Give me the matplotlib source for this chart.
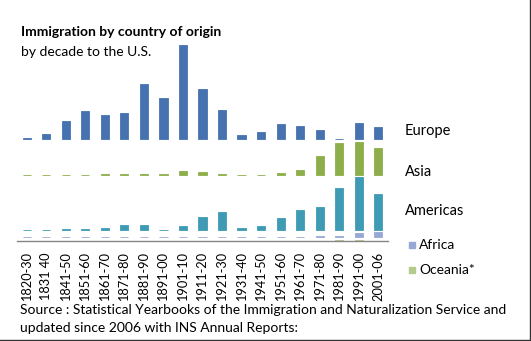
import matplotlib.pyplot as plt
from matplotlib.lines import Line2D
from matplotlib.patches import Rectangle

plt.rcParams['font.family'] = ['Lato', 'DejaVu Sans']

# decades and immigrants by region of origin (thousands)
decades = ['1820-30', '1831 40', '1841-50', '1851-60', '1861-70', '1871-80',
           '1881-90', '1891-00', '1901-10', '1911-20', '1921-30', '1931-40',
           '1941-50', '1951-60', '1961-70', '1971-80', '1981-90', '1991-00',
           '2001-06']
europe = [106, 496, 1597, 2453, 2065, 2272, 4735, 3555, 8056, 4321, 2463,
          348, 621, 1326, 1123, 800, 50, 1360, 1050]
asia = [0, 0, 0, 41, 65, 124, 70, 75, 324, 247, 112, 17, 37, 153, 428,
        1588, 2738, 2795, 2300]
americas = [12, 33, 62, 74, 166, 404, 427, 39, 362, 1144, 1517, 160, 355,
            997, 1716, 1983, 3615, 4486, 3100]
africa = [0, 0, 0, 0, 0, 0, 1, 0, 7, 8, 6, 2, 7, 14, 29, 81, 141, 346, 480]
oceania = [0, 0, 0, 0, 0, 10, 12, 4, 12, 12, 9, 3, 14, 13, 25, 41, 46, 56, 40]

# each region sits on its own baseline (small multiples in one axis)
series = [
    ('Europe', europe, 8686, '#4672b0'),
    ('Asia', asia, 5636, '#8dae4a'),
    ('Americas', americas, 940, '#3e9bb3'),
    ('Africa', africa, 316, '#97a8d6'),
    ('Oceania*', oceania, 0, '#b3cc8c'),
]

W, H = 531, 341
fig = plt.figure(figsize=(W / 100, H / 100), dpi=100)
ax = fig.add_axes([17 / W, (H - 241) / H, (388 - 17) / W, (241 - 40) / H])

x = range(len(decades))
for name, vals, base, col in series:
    ax.bar(x, vals, bottom=base, width=0.42, color=col, edgecolor=col,
           linewidth=0.6)

ax.set_xlim(-0.5, len(decades) - 0.5)
ax.set_ylim(0, 17170)
ax.set_yticks([])
ax.set_xticks(list(x))
ax.set_xticklabels(decades, rotation=90, fontsize=9.2, color='black')
ax.tick_params(axis='x', length=0, pad=8)
for s in ['top', 'left', 'right']:
    ax.spines[s].set_visible(False)
ax.spines['bottom'].set_color('#868686')
ax.spines['bottom'].set_linewidth(1)

# titles
fig.text(21 / W, 1 - 32 / H, 'Immigration by country of origin',
         fontsize=10, fontweight='bold', va='center', ha='left')
fig.text(21 / W, 1 - 52 / H, 'by decade to the U.S.',
         fontsize=10, va='center', ha='left')

# region labels on the right
for label, ypx in [('Europe', 131), ('Asia', 172), ('Americas', 211)]:
    fig.text(405 / W, 1 - ypx / H, label, fontsize=10.5, va='center', ha='left')

# legend-like entries for the small series
for name, col, ypx in [('Africa', series[3][3], 245),
                       ('Oceania*', series[4][3], 270)]:
    fig.add_artist(Rectangle((409 / W, 1 - (ypx + 3) / H), 6 / W, 6 / H,
                             transform=fig.transFigure, color=col))
    fig.text(419 / W, 1 - ypx / H, name, fontsize=10, va='center', ha='left')

# source note
fig.text(20 / W, 1 - 310 / H,
         'Source : Statistical Yearbooks of the Immigration and Naturalization Service and',
         fontsize=10, va='center', ha='left')
fig.text(20 / W, 1 - 328 / H, 'updated since 2006 with INS Annual Reports:',
         fontsize=10, va='center', ha='left')

# chart frame (right and bottom edges visible)
fig.add_artist(Line2D([530 / W, 530 / W], [0, 1], transform=fig.transFigure,
                      color='#333333', linewidth=1))
fig.add_artist(Line2D([0, 1], [1 / H, 1 / H], transform=fig.transFigure,
                      color='#333333', linewidth=1))

fig.savefig('out.png', dpi=100)
